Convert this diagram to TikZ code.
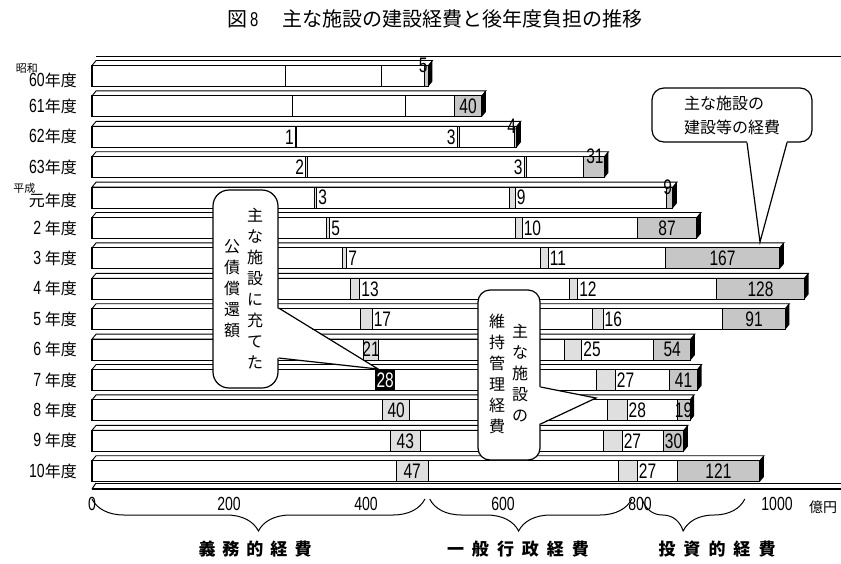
\documentclass[tikz,border=0pt]{standalone}
\usepackage{fontspec}
\setmainfont{Liberation Sans}
\newfontfamily\jpfont{Noto Sans CJK JP}
\newfontfamily\numfont[FakeStretch=0.74]{Liberation Sans}
\usetikzlibrary{decorations.pathreplacing}
\newcommand{\yrn}[1]{{\numfont\fontsize{19}{19}\selectfont #1}}
\tikzset{
  bar/.style={draw, line width=1.1pt, fill=white},
  topface/.style={draw, line width=0.9pt, fill=white},
  dbox/.style={draw, line width=0.9pt, fill=gray!25, inner sep=0pt, minimum height=21pt},
  kbox/.style={dbox, fill=black},
  mbox/.style={dbox},
  cbox/.style={draw, line width=0.9pt, fill=gray!45, inner sep=0pt, minimum height=21pt},
  num/.style={font=\numfont\fontsize{21}{21}\selectfont, inner sep=1pt},
  numL/.style={num, anchor=east, at={(#1.west)}},
  numR/.style={num, anchor=west, at={(#1.east)}},
  numC/.style={num, at={(#1.center)}},
  numW/.style={numC=#1, text=white},
  numT/.style={num, anchor=south east, at={(#1.north east)}, yshift=-9pt},
  tick/.style={font=\numfont\fontsize{19}{19}\selectfont, inner sep=1pt},
  yrlab/.style={anchor=east, font=\jpfont\fontsize{16}{16}\selectfont, inner sep=0pt},
  era/.style={anchor=south east, font=\jpfont\fontsize{11}{11}\selectfont, inner sep=0pt},
  callout/.style={draw, line width=1.2pt, fill=white, rounded corners=12pt, inner sep=0pt},
  ptr/.style={line width=1.2pt},
  vtext/.style={font=\jpfont\fontsize{16}{21}\selectfont, align=center, anchor=north, inner sep=0pt},
  cat/.style={font=\jpfont\bfseries\fontsize{17}{17}\selectfont, inner sep=0pt},
  brc/.style={decorate, decoration={brace, mirror, amplitude=32pt, aspect=#1}, line width=1pt},
  brc/.default=0.5,
}

\begin{document}
\begin{tikzpicture}[x=1pt,y=-1pt]
  \useasboundingbox (0,0) rectangle (841,563);

  %% ==================
  %% Title
  %% ==================
  \node[anchor=west, font=\jpfont\fontsize{20}{20}\selectfont, inner sep=0pt] (title) at (227,19)
    {図\hspace{3pt}{\numfont 8}\hspace{24pt}主な施設の建設経費と後年度負担の推移};

  % back and floor lines
  \draw[line width=1pt] (96,56) -- (841,56);
  \draw[line width=1pt] (96,483) -- (841,483);
  \draw[line width=1.1pt] (92,489) -- (841,489);
  \draw[line width=1pt] (92,489) -- (96,483);

  %% ==================
  %% Bars (x in 100 million yen)
  %% ==================
  \begin{scope}[shift={(92,0)}, x=0.685pt]
    % row / end of duty exp. / debt / lbl / box / end of general exp. / upkeep / lbl / total / building / lbl
    \foreach \row/\xa/\dv/\dl/\ds/\xb/\mv/\ml/\xe/\kv/\kl in {
      0/282/0/L/dbox/423/0/L/491/5/T,
      1/292/0/L/dbox/458/0/L/569/40/C,
      2/298/1/L/dbox/536/3/L/620/4/T,
      3/314/2/L/dbox/634/3/L/748/31/T,
      4/328/3/R/dbox/618/9/R/848/9/T,
      5/347/5/R/dbox/628/10/R/883/87/C,
      6/372/7/R/dbox/666/11/R/1004/167/C,
      7/391/13/R/dbox/709/12/R/1040/128/C,
      8/409/17/R/dbox/746/16/R/1012/91/C,
      9/418/21/C/dbox/715/25/R/874/54/C,
      10/442/28/W/kbox/764/27/R/884/41/C,
      11/464/40/C/dbox/781/28/R/873/19/C,
      12/479/43/C/dbox/774/27/R/864/30/C,
      13/491/47/C/dbox/796/27/R/975/121/C}{
      \pgfmathsetmacro{\yc}{76+30.4*\row}
      \draw[topface] (0,\yc-10.5) -- ++(6,-5) -- (\xe+6,\yc-15.5) -- (\xe,\yc-10.5) -- cycle;
      \fill (\xe,\yc-10.5) -- ++(6,-5) -- ++(0,21) -- (\xe,\yc+10.5) -- cycle;
      \draw[bar] (0,\yc-10.5) rectangle (\xe,\yc+10.5);
      % debt repayment, upkeep, building cost
      \node[\ds, minimum width={\dv*0.685pt}] (dbt\row) at (\xa-\dv/2,\yc) {};
      \node[mbox, minimum width={\mv*0.685pt}] (mnt\row) at (\xb-\mv/2,\yc) {};
      \node[cbox, minimum width={\kv*0.685pt}] (cst\row) at (\xe-\kv/2,\yc) {};
      \ifnum\dv>0 \node[num\dl=dbt\row] (dlb\row) {\dv}; \fi
      \ifnum\mv>0 \node[num\ml=mnt\row] (mlb\row) {\mv}; \fi
      \node[num\kl=cst\row] (klb\row) {\kv};
    }

    % axis
    \foreach \v in {0,200,...,1000}
      \node[tick] (tk\v) at (\v,504) {\v};

    % braces
    \draw[brc] (0,499) -- (486,499);
    \draw[brc=0.44] (493,499) -- (788,499);
    \draw[brc=0.4] (803,499) -- (953,499);
  \end{scope}

  \node[font=\jpfont\fontsize{14}{14}\selectfont, inner sep=0pt] (unit) at (823,507) {億円};

  \node[cat] (gimu) at (255,549) {義\hspace{7pt}務\hspace{7pt}的\hspace{7pt}経\hspace{7pt}費};
  \node[cat] (ippan) at (518,549) {一\hspace{8pt}般\hspace{8pt}行\hspace{8pt}政\hspace{8pt}経\hspace{8pt}費};
  \node[cat] (toshi) at (717,549) {投\hspace{8pt}資\hspace{8pt}的\hspace{8pt}経\hspace{8pt}費};

  %% ==================
  %% Year labels
  %% ==================
  \foreach \row/\dy/\t in {0/4/{\yrn{60}年度}, 1/0/{\yrn{61}年度}, 2/0/{\yrn{62}年度},
      3/0/{\yrn{63}年度}, 4/3/{元年度}, 5/0/{\yrn{2} 年度}, 6/0/{\yrn{3} 年度},
      7/0/{\yrn{4} 年度}, 8/0/{\yrn{5} 年度}, 9/0/{\yrn{6} 年度}, 10/0/{\yrn{7} 年度},
      11/0/{\yrn{8} 年度}, 12/0/{\yrn{9} 年度}, 13/0/{\yrn{10}年度}}
    \node[yrlab] (yr\row) at (77,{76+30.4*\row+\dy}) {\t};
  \node[era] (showa) at ([xshift=9pt,yshift=-1pt]yr0.north west) {昭和};
  \node[era] (heisei) at ([xshift=7pt,yshift=-1pt]yr4.north west) {平成};

  %% ==================
  %% Callouts
  %% ==================
  % building cost
  \node[callout, minimum width=160pt, minimum height=54pt, align=left,
        font=\jpfont\fontsize{16}{24}\selectfont] (calA) at (732,115) {主な施設の\\建設等の経費};
  \coordinate (tipA) at (760,242);
  \fill[white] ([xshift=15pt,yshift=2pt]calA.south) -- (tipA) -- ([xshift=55pt,yshift=2pt]calA.south) -- cycle;
  \draw[ptr] ([xshift=15pt]calA.south) -- (tipA) -- ([xshift=55pt]calA.south);

  % debt repayment
  \node[callout, rounded corners=16pt, minimum width=65pt, minimum height=198pt] (calB) at (245.5,289) {};
  \node[vtext] (calBr) at (255,208) {主\\な\\施\\設\\に\\充\\て\\た};
  \node[vtext] (calBl) at (232,239) {公\\債\\償\\還\\額};
  \coordinate (tipB) at ([xshift=3pt]dbt10.north west);
  \fill[white] ([xshift=-2pt,yshift=-19pt]calB.east) -- (tipB) -- ([xshift=-2pt,yshift=-69pt]calB.east) -- cycle;
  \draw[ptr] ([yshift=-19pt]calB.east) -- (tipB) -- ([yshift=-69pt]calB.east);

  % upkeep
  \node[callout, minimum width=62pt, minimum height=170pt] (calC) at (509,375) {};
  \node[vtext] (calCr) at (520,324) {主\\な\\施\\設\\の};
  \node[vtext] (calCl) at (497,314) {維\\持\\管\\理\\経\\費};
  \coordinate (tipC) at (596,398);
  \fill[white] ([xshift=-2pt,yshift=-12pt]calC.east) -- (tipC) -- ([xshift=-2pt,yshift=-49pt]calC.east) -- cycle;
  \draw[ptr] ([yshift=-12pt]calC.east) -- (tipC) -- ([yshift=-49pt]calC.east);
\end{tikzpicture}
\end{document}
